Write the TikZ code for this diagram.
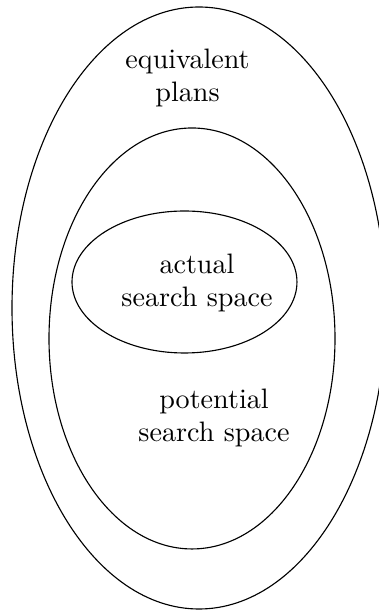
\documentclass[tikz,border=0pt]{standalone}
\usepackage{tikz}

\begin{document}
\begin{tikzpicture}[label/.style={align=center, inner sep=0pt}]
    \useasboundingbox (0,0) rectangle (4.7375,7.625);

    \coordinate (Oplans) at (2.4875,3.775);
    \coordinate (Opot) at (2.4,3.394);
    \coordinate (Oact) at (2.306,4.1);

    \draw (Oplans) ellipse (2.3375 and 3.7625);
    \draw (Opot) ellipse (1.7875 and 2.631);
    \draw (Oact) ellipse (1.406 and 0.8875);

    \node[label] (plans) at (2.344,6.65) {equivalent\\plans};
    \node[label] (actual) at (2.4625,4.0875) {actual\\search space};
    \node[label] (potential) at (2.675,2.4) {potential\\search space};
\end{tikzpicture}
\end{document}
